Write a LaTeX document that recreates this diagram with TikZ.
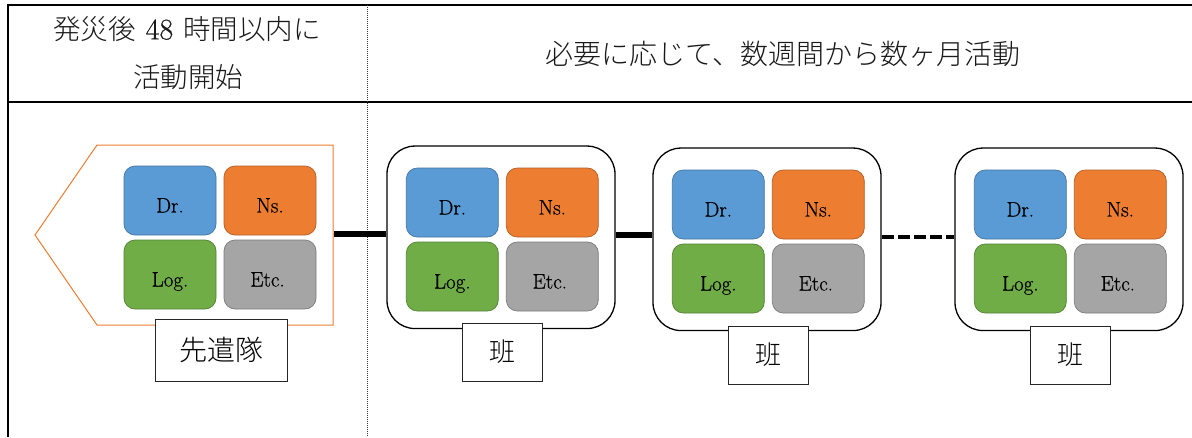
\documentclass[tikz,border=0pt]{standalone}
\usepackage{fontspec}
\newfontfamily\cjk{Noto Sans CJK JP Light}
\newfontfamily\lat[FakeBold=0.5]{Latin Modern Roman}
\newcommand{\celltext}[1]{\raisebox{-12pt}[0pt][0pt]{#1}}
\tikzset{
  cell/.style={minimum width=92pt,minimum height=69pt,rounded corners=11pt,inner sep=0pt,line width=.7pt,font=\lat\fontsize{21}{23}\selectfont,text=black},
  drcell/.style={cell,fill=cellblue,draw=cellblue!75!black},
  nscell/.style={cell,fill=cellorange,draw=cellorange!75!black},
  logcell/.style={cell,fill=cellgreen,draw=cellgreen!75!black},
  etccell/.style={cell,fill=cellgray,draw=cellgray!75!black},
  team/.style={draw=black,line width=1.3pt,fill=white,rounded corners=28pt,minimum width=228pt,minimum height=182.5pt,inner sep=0pt},
  tag/.style={draw=black!85,line width=1pt,fill=white,inner sep=0pt,font=\cjk\fontsize{26}{28}\selectfont},
  head/.style={inner sep=0pt,align=center,font=\cjk\fontsize{27.5}{48}\selectfont,text=black!90},
  rulethick/.style={line width=2pt,draw=black},
  link/.style={line width=6pt,draw=black}
}
\definecolor{cellblue}{HTML}{5B9BD5}
\definecolor{cellorange}{HTML}{ED7D31}
\definecolor{cellgreen}{HTML}{70AD47}
\definecolor{cellgray}{HTML}{A5A5A5}
\begin{document}
\begin{tikzpicture}[x=1pt,y=-1pt]
\useasboundingbox (0,0) rectangle (1192,437);
\fill[white] (0,0) rectangle (1192,437);
% frame
\coordinate (tl) at (8,5);
\coordinate (tr) at (1192,5);
\coordinate (bl) at (8,437);
\coordinate (ml) at (8,102);
\coordinate (mr) at (1192,102);
\draw[rulethick] (bl) -- (tl) -- (tr);
\draw[rulethick] (ml) -- (mr);
\coordinate (dt) at (367,5);
\coordinate (db) at (367,437);
\draw[line width=.8pt,black!80,dash pattern=on 1pt off 1pt] (dt) -- (db);
% headers
\node[head] (h1a) at (187,29) {発災後\hspace{10pt}{\lat\fontsize{30}{32}\selectfont 48}\hspace{10pt}時間以内に};
\node[head] (h1b) at (188,77) {活動開始};
\node[head,font=\cjk\fontsize{28}{30}\selectfont] (h2) at (783,54) {必要に応じて、数週間から数ヶ月活動};
% advance party
\coordinate (p1) at (35,235);
\coordinate (p2) at (97,145);
\coordinate (p3) at (333,145);
\coordinate (p4) at (333,325);
\coordinate (p5) at (97,325);
\coordinate (pe) at (334,234);
\draw[draw=cellorange,line width=1pt,fill=white,line join=miter] (p1) -- (p2) -- (p3) -- (p4) -- (p5) -- cycle;
% teams
\node[team] (g2) at (501,237.3) {};
\node[team] (g3) at (767,239.3) {};
\node[team] (g4) at (1069,239.3) {};
% links
\coordinate (l2) at (600,234.7);
\coordinate (l3) at (900,237);
\draw[link] (pe) -- (g2.west |- pe);
\draw[link] (g2.east |- l2) -- (g3.west |- l2);
\draw[link,line width=4.5pt,dash pattern=on 12pt off 4pt] (g3.east |- l3) -- (g4.west |- l3);
% cells of advance party
\node[drcell] (a1) at (170,200.5) {\celltext{Dr.}};
\node[nscell] (a2) at (270,200.5) {\celltext{Ns.}};
\node[logcell] (a3) at (170,274.5) {\celltext{Log.}};
\node[etccell] (a4) at (270,274.5) {\hspace*{-5pt}\celltext{Etc.}};
% cells of team 2
\node[drcell] (b1) at (452.3,202.5) {\celltext{Dr.}};
\node[nscell] (b2) at (552.3,202.5) {\celltext{Ns.}};
\node[logcell] (b3) at (452.3,276.5) {\celltext{Log.}};
\node[etccell] (b4) at (552.3,276.5) {\hspace*{-5pt}\celltext{Etc.}};
% cells of team 3
\node[drcell] (c1) at (718.3,204.5) {\celltext{Dr.}};
\node[nscell] (c2) at (818.3,204.5) {\celltext{Ns.}};
\node[logcell] (c3) at (718.3,278.5) {\celltext{Log.}};
\node[etccell] (c4) at (818.3,278.5) {\hspace*{-5pt}\celltext{Etc.}};
% cells of team 4
\node[drcell] (d1) at (1020.3,204.5) {\celltext{Dr.}};
\node[nscell] (d2) at (1120.3,204.5) {\celltext{Ns.}};
\node[logcell] (d3) at (1020.3,278.5) {\celltext{Log.}};
\node[etccell] (d4) at (1120.3,278.5) {\hspace*{-5pt}\celltext{Etc.}};
% tags
\node[tag,minimum width=132pt,minimum height=62pt,font=\cjk\fontsize{28}{30}\selectfont] (t1) at (221,350) {先遣隊};
\node[tag,minimum width=80pt,minimum height=58pt] (t2) at (502,352) {班};
\node[tag,minimum width=80pt,minimum height=58pt] (t3) at (768,355) {班};
\node[tag,minimum width=80pt,minimum height=58pt] (t4) at (1070,355) {班};
\end{tikzpicture}
\end{document}
